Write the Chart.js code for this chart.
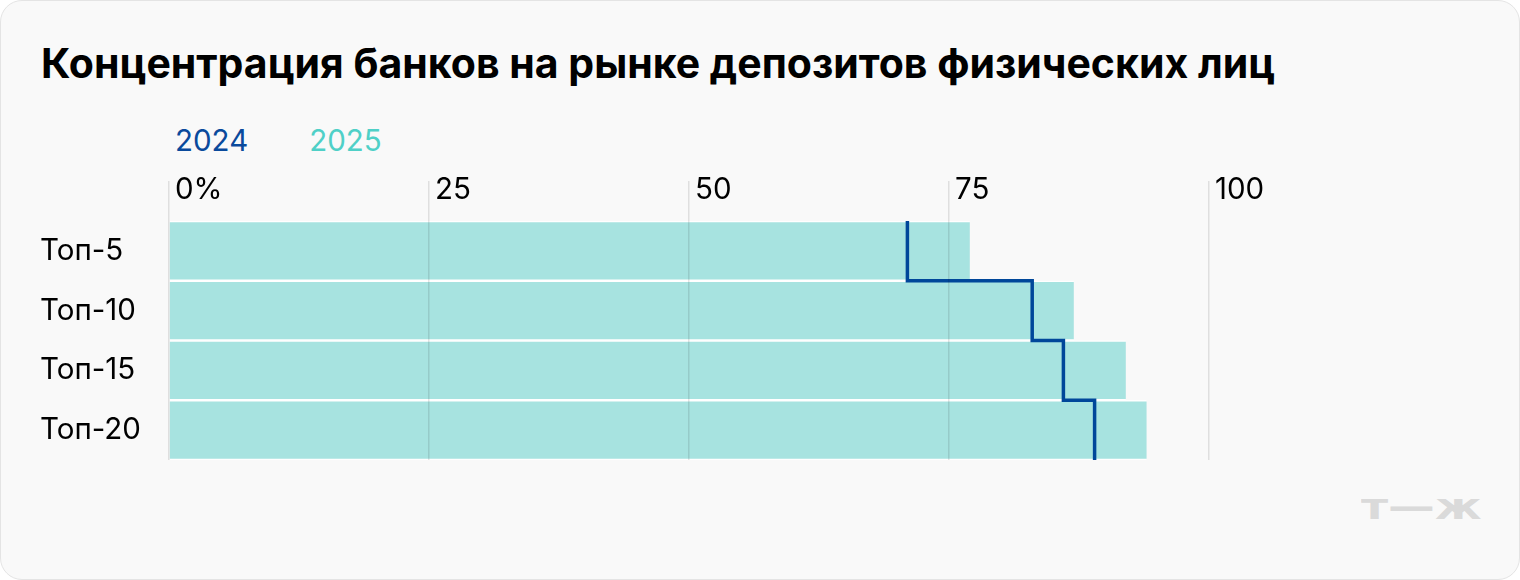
<!DOCTYPE html>
<html lang="ru">
<head>
<meta charset="utf-8">
<script src="https://cdn.jsdelivr.net/npm/chart.js@4"></script>
<style>
  html, body { margin: 0; padding: 0; background: #ffffff; }
  .card {
    position: absolute; left: 0; top: 0; width: 1518px; height: 578px;
    background: #f9f9f9; border: 1px solid #e4e4e4; border-radius: 22px;
    font-family: Inter, "Noto Sans", sans-serif; overflow: hidden;
  }
  .title {
    position: absolute; left: 40px; top: 37px; margin: 0;
    font-size: 41px; font-weight: 700; color: #000;
  }
  .legend { position: absolute; left: 174px; top: 121px; font-size: 29.5px; }
  .legend span { margin-right: 61px; }
  .mark {
    position: absolute; left: 1360px; top: 488px; font-size: 36px; line-height: 36px;
    font-weight: 800; color: #dadada; font-family: "DejaVu Sans", sans-serif;
    transform: scaleX(1.3); transform-origin: left top;
  }
  #chart { position: absolute; left: 0; top: 0; }
</style>
</head>
<body>
<div class="card">
  <h1 class="title">Концентрация банков на рынке депозитов физических лиц</h1>
  <div class="legend"><span style="color:#0a4a9c">2024</span><span style="color:#4fd0c7">2025</span></div>
  <div class="mark">т—ж</div>
  <canvas id="chart" width="1520" height="580"></canvas>
</div>
<script>
// Data
var categories = ['Топ-5', 'Топ-10', 'Топ-15', 'Топ-20'];
var values2025 = [77, 87, 92, 94];
var values2024 = [71, 83, 86, 89];
var tickLabels = { 0: '0%', 25: '25', 50: '50', 75: '75', 100: '100' };

// Build the stepped line for 2024: each value spans its whole row
var stepPoints = [];
values2024.forEach(function (v, i) {
    stepPoints.push({ x: v, y: i });
    stepPoints.push({ x: v, y: i + 1 });
});

var ctx = document.getElementById('chart').getContext('2d');
Chart.defaults.font.family = 'Inter, "Noto Sans", sans-serif';
Chart.defaults.color = '#000';

new Chart(ctx, {
    type: 'bar',
    data: {
        labels: categories,
        datasets: [{
            type: 'line',
            label: '2024',
            data: stepPoints,
            xAxisID: 'x',
            yAxisID: 'y2',
            borderColor: '#00479a',
            borderWidth: 3.5,
            borderJoinStyle: 'miter',
            pointRadius: 0,
            tension: 0,
            order: 0
        }, {
            label: '2025',
            data: values2025,
            xAxisID: 'x',
            yAxisID: 'y',
            backgroundColor: '#a7e3e0',
            borderColor: '#ffffff',
            borderWidth: { top: 1.5, bottom: 1.5, left: 0, right: 0 },
            borderSkipped: false,
            grouped: false,
            barPercentage: 1,
            categoryPercentage: 1,
            order: 1
        }]
    },
    options: {
        indexAxis: 'y',
        responsive: false,
        animation: false,
        layout: { padding: { left: 39, top: 160, right: 312, bottom: 121 } },
        plugins: { legend: { display: false }, tooltip: { enabled: false } },
        scales: {
            x: {
                position: 'top',
                min: 0,
                max: 100,
                clip: false,
                afterFit: function (scale) { scale.height = 60; },
                border: { display: false },
                grid: { color: 'rgba(0,0,0,0.1)', lineWidth: 1.5, tickLength: 40, z: 1 },
                ticks: {
                    stepSize: 25,
                    align: 'start',
                    labelOffset: 6,
                    padding: -27,
                    font: { size: 29.5 },
                    color: '#000',
                    callback: function (v) { return tickLabels[v]; }
                }
            },
            y: {
                afterFit: function (scale) { scale.width = 129; },
                border: { display: false },
                grid: { display: false },
                ticks: { crossAlign: 'far', font: { size: 29.5 }, color: '#000', padding: 0 }
            },
            y2: {
                type: 'linear',
                display: false,
                offset: false,
                min: 0,
                max: 4,
                reverse: true
            }
        }
    }
});
</script>
</body>
</html>
